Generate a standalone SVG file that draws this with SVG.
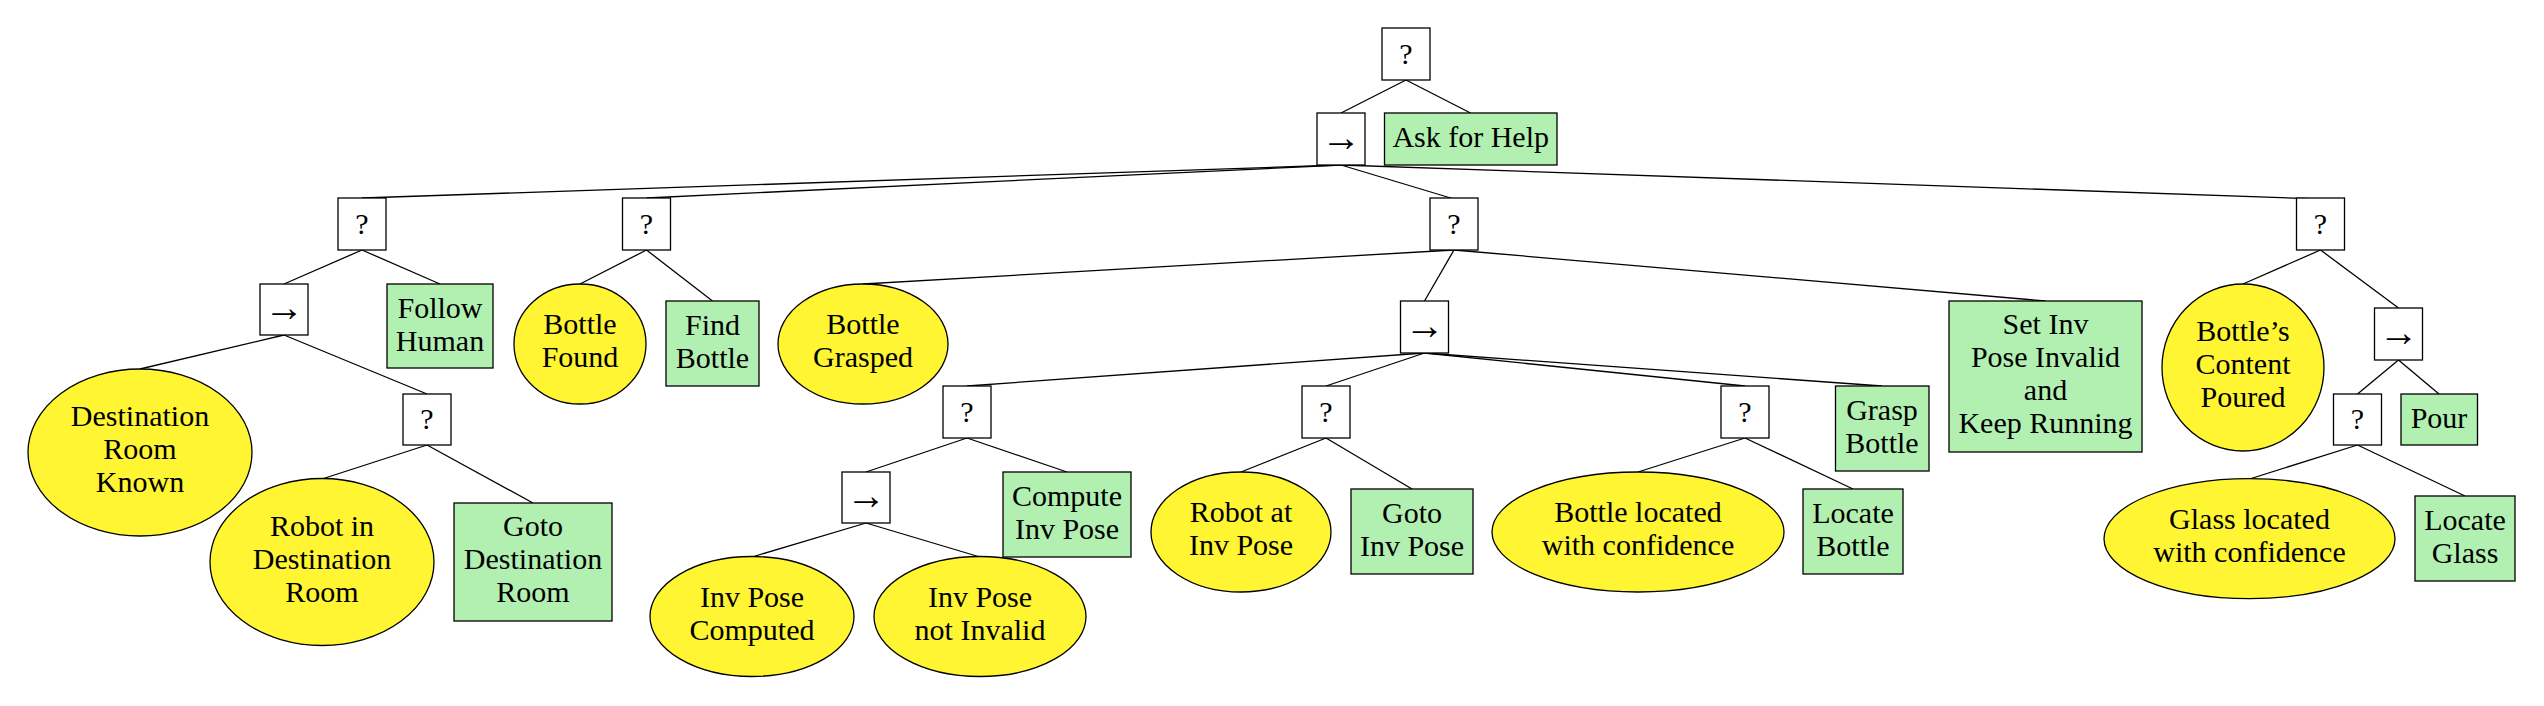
<svg xmlns="http://www.w3.org/2000/svg" width="2544" height="706" viewBox="0 0 2544 706" font-family="Liberation Serif, DejaVu Serif, serif">
<style>
.ctl{fill:#ffffff;stroke:#000;stroke-width:1.3}
.act{fill:#b2f0b2;stroke:#000;stroke-width:1.3}
.cond{fill:#fff533;stroke:#000;stroke-width:1.3}
.e{stroke:#000;stroke-width:1.3;fill:none}
text{font-size:30px;fill:#000;text-anchor:middle}
text.arr{font-size:40px}
</style>
<rect width="2544" height="706" fill="#fff"/>
<g id="connectors">
<line class="e" x1="1406" y1="80" x2="1341" y2="113"/>
<line class="e" x1="1406" y1="80" x2="1470.5" y2="113"/>
<line class="e" x1="1341" y1="165" x2="362" y2="198"/>
<line class="e" x1="1341" y1="165" x2="646.5" y2="198"/>
<line class="e" x1="1341" y1="165" x2="1454" y2="199"/>
<line class="e" x1="1341" y1="165" x2="2320.5" y2="199"/>
<line class="e" x1="362" y1="250" x2="284" y2="284"/>
<line class="e" x1="362" y1="250" x2="440" y2="284"/>
<line class="e" x1="646.5" y1="250" x2="580" y2="284"/>
<line class="e" x1="646.5" y1="250" x2="712.5" y2="301"/>
<line class="e" x1="284" y1="335" x2="140" y2="369"/>
<line class="e" x1="284" y1="335" x2="427" y2="394"/>
<line class="e" x1="427" y1="445" x2="322" y2="479"/>
<line class="e" x1="427" y1="445" x2="533" y2="503"/>
<line class="e" x1="1454" y1="250" x2="863" y2="284"/>
<line class="e" x1="1454" y1="250" x2="1424.5" y2="301"/>
<line class="e" x1="1454" y1="250" x2="2045.5" y2="301"/>
<line class="e" x1="1424.5" y1="353" x2="967" y2="386"/>
<line class="e" x1="1424.5" y1="353" x2="1326" y2="386"/>
<line class="e" x1="1424.5" y1="353" x2="1745" y2="386"/>
<line class="e" x1="1424.5" y1="353" x2="1882" y2="386"/>
<line class="e" x1="967" y1="438" x2="866" y2="472"/>
<line class="e" x1="967" y1="438" x2="1067" y2="472"/>
<line class="e" x1="866" y1="523" x2="752" y2="557"/>
<line class="e" x1="866" y1="523" x2="980" y2="557"/>
<line class="e" x1="1326" y1="438" x2="1241" y2="472"/>
<line class="e" x1="1326" y1="438" x2="1412" y2="489"/>
<line class="e" x1="1745" y1="438" x2="1638" y2="472"/>
<line class="e" x1="1745" y1="438" x2="1853" y2="489"/>
<line class="e" x1="2320.5" y1="250" x2="2243" y2="284"/>
<line class="e" x1="2320.5" y1="250" x2="2398.5" y2="308"/>
<line class="e" x1="2398.5" y1="360" x2="2357.5" y2="394"/>
<line class="e" x1="2398.5" y1="360" x2="2439" y2="394"/>
<line class="e" x1="2357.5" y1="445" x2="2249.5" y2="479"/>
<line class="e" x1="2357.5" y1="445" x2="2465" y2="496"/>
</g>
<g id="root"><rect class="ctl" x="1382" y="28" width="48" height="52"/><text x="1406" y="64">?</text></g>
<g id="seq1"><rect class="ctl" x="1317" y="113" width="48" height="52"/><text class="arr" x="1341" y="151">→</text></g>
<g id="askHelp"><rect class="act" x="1384.5" y="113" width="172.5" height="52"/><text x="1470.7" y="147">Ask for Help</text></g>
<g id="fbA"><rect class="ctl" x="338" y="198" width="48" height="52"/><text x="362" y="234">?</text></g>
<g id="fbB"><rect class="ctl" x="622.5" y="198" width="48" height="52"/><text x="646.5" y="234">?</text></g>
<g id="fbC"><rect class="ctl" x="1430" y="198" width="48" height="52"/><text x="1454" y="234">?</text></g>
<g id="fbD"><rect class="ctl" x="2296.5" y="198" width="48" height="52"/><text x="2320.5" y="234">?</text></g>
<g id="seqA"><rect class="ctl" x="260" y="284" width="48" height="51"/><text class="arr" x="284" y="321">→</text></g>
<g id="followHuman"><rect class="act" x="387" y="284" width="106" height="84"/><text x="440" y="318">Follow</text><text x="440" y="351">Human</text></g>
<g id="bottleFound"><ellipse class="cond" cx="580" cy="344" rx="66" ry="60"/><text x="580" y="334">Bottle</text><text x="580" y="367">Found</text></g>
<g id="findBottle"><rect class="act" x="666" y="301" width="93" height="85"/><text x="712.5" y="335">Find</text><text x="712.5" y="368">Bottle</text></g>
<g id="bottleGrasped"><ellipse class="cond" cx="863" cy="344" rx="85" ry="60"/><text x="863" y="334">Bottle</text><text x="863" y="367">Grasped</text></g>
<g id="destKnown"><ellipse class="cond" cx="140" cy="452.5" rx="112" ry="83.5"/><text x="140" y="426">Destination</text><text x="140" y="459">Room</text><text x="140" y="492">Known</text></g>
<g id="fbA2"><rect class="ctl" x="403" y="394" width="48" height="51"/><text x="427" y="429">?</text></g>
<g id="robotInDest"><ellipse class="cond" cx="322" cy="562" rx="112" ry="83.5"/><text x="322" y="536">Robot in</text><text x="322" y="569">Destination</text><text x="322" y="602">Room</text></g>
<g id="gotoDest"><rect class="act" x="454" y="503" width="158" height="118"/><text x="533" y="536">Goto</text><text x="533" y="569">Destination</text><text x="533" y="602">Room</text></g>
<g id="seqC"><rect class="ctl" x="1400.5" y="301" width="48" height="52"/><text class="arr" x="1424.5" y="339">→</text></g>
<g id="setInv"><rect class="act" x="1949" y="301" width="193" height="151"/><text x="2045.5" y="334">Set Inv</text><text x="2045.5" y="367">Pose Invalid</text><text x="2045.5" y="400">and</text><text x="2045.5" y="433">Keep Running</text></g>
<g id="contentPoured"><ellipse class="cond" cx="2243" cy="367.5" rx="81" ry="83.5"/><text x="2243" y="341">Bottle’s</text><text x="2243" y="374">Content</text><text x="2243" y="407">Poured</text></g>
<g id="seqD"><rect class="ctl" x="2374.5" y="308" width="48" height="52"/><text class="arr" x="2398.5" y="346">→</text></g>
<g id="fbC1"><rect class="ctl" x="943" y="386" width="48" height="52"/><text x="967" y="422">?</text></g>
<g id="fbC2"><rect class="ctl" x="1302" y="386" width="48" height="52"/><text x="1326" y="422">?</text></g>
<g id="fbC3"><rect class="ctl" x="1721" y="386" width="48" height="52"/><text x="1745" y="422">?</text></g>
<g id="graspBottle"><rect class="act" x="1835.5" y="386" width="93.5" height="85"/><text x="1882" y="420">Grasp</text><text x="1882" y="453">Bottle</text></g>
<g id="seqC1"><rect class="ctl" x="842" y="472" width="48" height="51"/><text class="arr" x="866" y="509">→</text></g>
<g id="computeInv"><rect class="act" x="1003" y="472" width="128" height="85"/><text x="1067" y="506">Compute</text><text x="1067" y="539">Inv Pose</text></g>
<g id="invComputed"><ellipse class="cond" cx="752" cy="616.5" rx="102" ry="60"/><text x="752" y="607">Inv Pose</text><text x="752" y="640">Computed</text></g>
<g id="invNotInvalid"><ellipse class="cond" cx="980" cy="616.5" rx="106" ry="60"/><text x="980" y="607">Inv Pose</text><text x="980" y="640">not Invalid</text></g>
<g id="robotAtInv"><ellipse class="cond" cx="1241" cy="532" rx="90" ry="60"/><text x="1241" y="522">Robot at</text><text x="1241" y="555">Inv Pose</text></g>
<g id="gotoInv"><rect class="act" x="1351" y="489" width="122" height="85"/><text x="1412" y="523">Goto</text><text x="1412" y="556">Inv Pose</text></g>
<g id="bottleLocated"><ellipse class="cond" cx="1638" cy="532" rx="146" ry="60"/><text x="1638" y="522">Bottle located</text><text x="1638" y="555">with confidence</text></g>
<g id="locateBottle"><rect class="act" x="1803" y="489" width="100" height="85"/><text x="1853" y="523">Locate</text><text x="1853" y="556">Bottle</text></g>
<g id="fbD2"><rect class="ctl" x="2333.5" y="394" width="48" height="51"/><text x="2357.5" y="429">?</text></g>
<g id="pour"><rect class="act" x="2401" y="394" width="76.5" height="51"/><text x="2439" y="428">Pour</text></g>
<g id="glassLocated"><ellipse class="cond" cx="2249.5" cy="538.7" rx="145.5" ry="60"/><text x="2249.5" y="529">Glass located</text><text x="2249.5" y="562">with confidence</text></g>
<g id="locateGlass"><rect class="act" x="2415" y="496" width="100" height="85"/><text x="2465" y="530">Locate</text><text x="2465" y="563">Glass</text></g>
</svg>
